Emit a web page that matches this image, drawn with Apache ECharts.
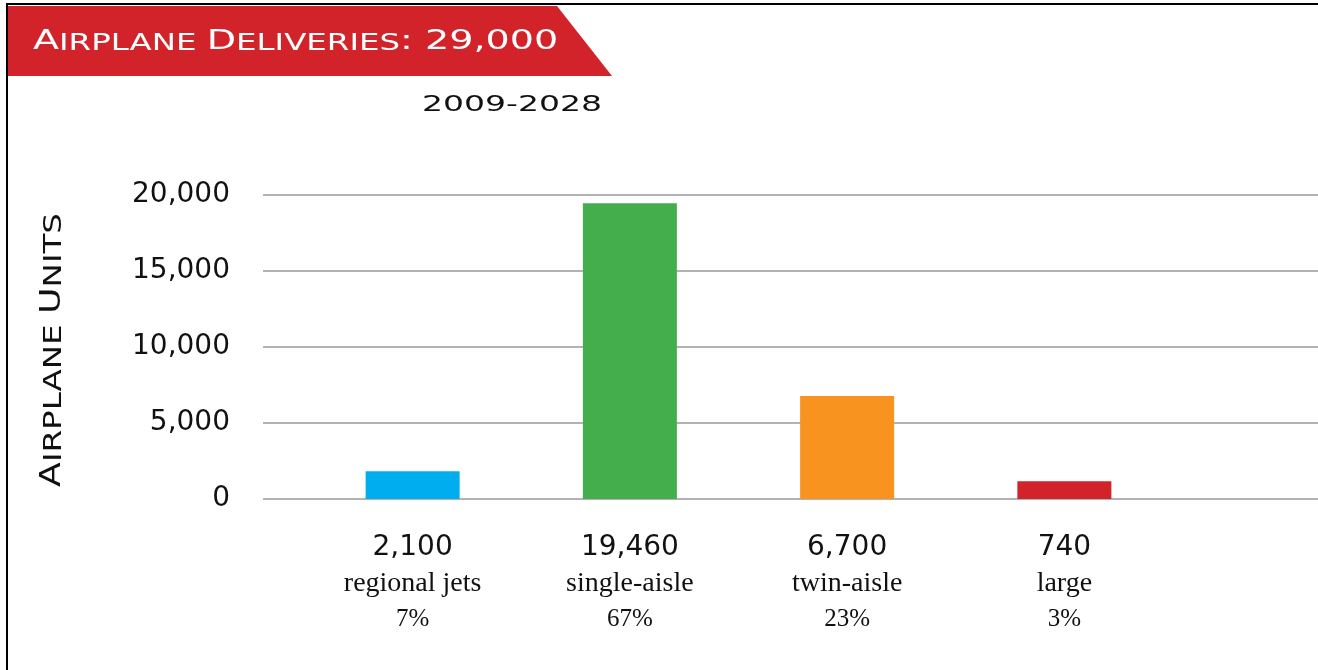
<!DOCTYPE html>
<html>
<head>
<meta charset="utf-8">
<script src="https://cdn.jsdelivr.net/npm/echarts@6/dist/echarts.min.js"></script>
<style>
html,body{margin:0;padding:0;background:#fff;}
#chart{width:1318px;height:670px;}
</style>
</head>
<body>
<div id="chart"></div>
<script>
// ---- data ----
const categories = ['regional jets', 'single-aisle', 'twin-aisle', 'large'];
const barValues = [1820, 19450, 6780, 1160];          // bar heights as drawn
const valueLabels = ['2,100', '19,460', '6,700', '740'];
const percentLabels = ['7%', '67%', '23%', '3%'];
const barColors = ['#00aeef', '#43ae4b', '#f7931e', '#d2232a'];
const yTicks = [0, 5000, 10000, 15000, 20000];
const subtitleText = '2009-2028';

const chart = echarts.init(document.getElementById('chart'), null, {renderer: 'canvas'});

const wideFont = '"DejaVu Sans", sans-serif';
const serifFont = '"Liberation Serif", "DejaVu Serif", serif';

const option = {
  animation: false,
  backgroundColor: '#fff',
  grid: [
    {left: 263, right: 0, top: 195, height: 304},
    {left: 304, width: 869, top: 195, height: 304}
  ],
  xAxis: [
    {gridIndex: 0, type: 'value', min: 0, max: 1, show: false},
    {
      gridIndex: 1, type: 'category', data: categories,
      axisLine: {show: false}, axisTick: {show: false},
      axisLabel: {
        interval: 0, margin: 31,
        formatter: function (val, idx) {
          return '{v|' + valueLabels[idx] + '}\n{c|' + val + '}\n{p|' + percentLabels[idx] + '}';
        },
        rich: {
          v: {fontFamily: wideFont, fontSize: 28, color: '#111', lineHeight: 36},
          c: {fontFamily: serifFont, fontSize: 28, color: '#111', lineHeight: 36},
          p: {fontFamily: serifFont, fontSize: 25, color: '#111', lineHeight: 34}
        }
      }
    }
  ],
  yAxis: [
    {
      gridIndex: 0, type: 'value', min: yTicks[0], max: yTicks[yTicks.length - 1],
      interval: yTicks[1] - yTicks[0],
      axisLine: {show: false}, axisTick: {show: false},
      axisLabel: {
        margin: 33, fontFamily: wideFont, fontSize: 28, color: '#111',
        formatter: function (v) { return v.toLocaleString('en-US'); }
      },
      splitLine: {lineStyle: {color: '#9a9a9e', width: 1.5}}
    },
    {
      gridIndex: 1, type: 'value', min: yTicks[0], max: yTicks[yTicks.length - 1],
      show: false
    }
  ],
  series: [{
    type: 'bar', xAxisIndex: 1, yAxisIndex: 1,
    barWidth: 94,
    data: barValues.map((v, i) => ({value: v, itemStyle: {color: barColors[i]}}))
  }],
  graphic: [
    {type: 'rect', shape: {x: 6, y: 3, width: 2, height: 667}, style: {fill: '#000'}, z: 10},
    {type: 'rect', shape: {x: 6, y: 3, width: 1312, height: 2}, style: {fill: '#000'}, z: 10},
    {type: 'polygon', shape: {points: [[8, 6], [557, 6], [612, 76], [8, 76]]}, style: {fill: '#d2232a'}, z: 10},
    {
      type: 'text', x: 33, y: 42, scaleX: 1.41, z: 11,
      style: {
        text: '{b|A}{s|IRPLANE }{b|D}{s|ELIVERIES}{b|: 29,000}',
        textVerticalAlign: 'middle',
        rich: {
          b: {fontFamily: wideFont, fontSize: 27, fill: '#fff', verticalAlign: 'bottom'},
          s: {fontFamily: wideFont, fontSize: 23, fill: '#fff', verticalAlign: 'bottom'}
        }
      }
    },
    {
      type: 'text', x: 512, y: 105, scaleX: 1.5, z: 11,
      style: {text: subtitleText, font: '22px "DejaVu Sans", sans-serif', fill: '#111',
              textAlign: 'center', textVerticalAlign: 'middle'}
    },
    {
      type: 'text', x: 53, y: 350, rotation: Math.PI / 2, scaleX: 1.3, z: 11,
      style: {
        text: '{b|A}{s|IRPLANE }{b|U}{s|NITS}',
        textAlign: 'center', textVerticalAlign: 'middle',
        rich: {
          b: {fontFamily: wideFont, fontSize: 28, fill: '#111', verticalAlign: 'bottom'},
          s: {fontFamily: wideFont, fontSize: 25, fill: '#111', verticalAlign: 'bottom'}
        }
      }
    }
  ]
};
chart.setOption(option);
</script>
</body>
</html>
